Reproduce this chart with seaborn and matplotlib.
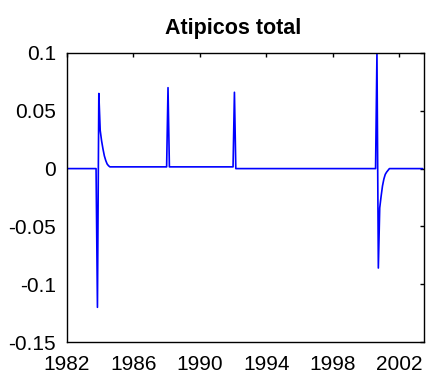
import numpy as np
import pandas as pd
import matplotlib
matplotlib.use("Agg")
import matplotlib.pyplot as plt
import seaborn as sns

# Monthly series, Jan 1982 .. Jun 2003
start_year = 1982
n_months = 258

# outlier events: (month index from Jan 1982, list of values)
event1_start = 22   # ~ Nov 1983
event1_vals = [-0.12, 0.065, 0.033, 0.024, 0.017, 0.011, 0.007, 0.004, 0.0025]
level_1984_1992 = 0.0015
event2_start = 73   # ~ Feb 1988
event2_vals = [0.070]
event3_start = 121  # ~ Feb 1992
event3_vals = [0.066]
event4_start = 224  # ~ Sep 2000
event4_vals = [0.1, -0.086, -0.034, -0.024, -0.015, -0.009, -0.005, -0.003, -0.0015]

values = np.zeros(n_months)
e1_end = event1_start + len(event1_vals)
values[e1_end:event3_start + len(event3_vals)] = level_1984_1992
for s, v in [(event1_start, event1_vals), (event2_start, event2_vals),
             (event3_start, event3_vals), (event4_start, event4_vals)]:
    values[s:s + len(v)] = v

years = start_year + np.arange(n_months) / 12.0
df = pd.DataFrame({"year": years, "value": values})

xticks = [1982, 1986, 1990, 1994, 1998, 2002]
yticks = [-0.15, -0.1, -0.05, 0, 0.05, 0.1]
yticklabels = ["-0.15", "-0.1", "-0.05", "0", "0.05", "0.1"]

sns.set_style("white")
plt.rcParams["font.family"] = ["Liberation Sans", "DejaVu Sans"]

fig = plt.figure(figsize=(4.34, 3.74), dpi=100)
ax = fig.add_axes([67 / 434, 1 - 342 / 374, (424 - 67) / 434, (342 - 53) / 374])
sns.lineplot(data=df, x="year", y="value", ax=ax, color="#0000ff", linewidth=1.2)
ax.set_xlim(1982, 2003.5)
ax.set_ylim(-0.15, 0.1)
ax.set_xticks(xticks)
ax.set_xticklabels([str(t) for t in xticks])
ax.set_yticks(yticks)
ax.set_yticklabels(yticklabels)
ax.set_xlabel("")
ax.set_ylabel("")
ax.tick_params(direction="in", length=3, width=1, top=True, right=True,
               labelsize=15, colors="black")
ax.tick_params(axis="x", pad=9)
ax.tick_params(axis="y", pad=8)
for sp in ax.spines.values():
    sp.set_visible(True)
    sp.set_color("black")
    sp.set_linewidth(1)
ax.set_title("Atipicos total", fontsize=15.5, fontweight="bold", pad=14, x=0.466,
             color="black")
fig.savefig("out.png", dpi=100)
